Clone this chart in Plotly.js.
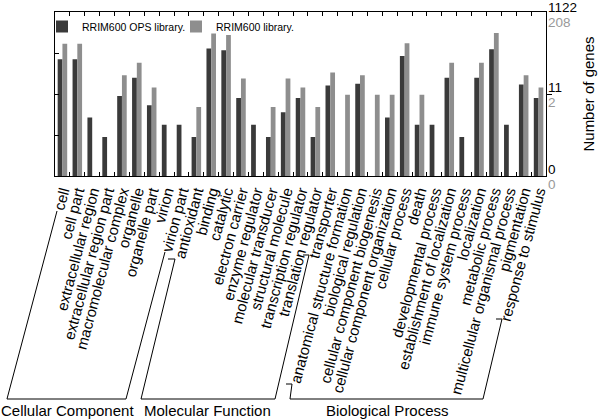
<!DOCTYPE html>
<html>
<head>
<meta charset="utf-8">
<script src="https://cdn.plot.ly/plotly-3.0.1.min.js"></script>
<style>html,body{margin:0;padding:0;background:#fff}#chart{width:600px;height:420px}</style>
</head>
<body>
<div id="chart"></div>
<script>
// GO terms (x-axis categories)
var categories = [
  'cell','cell part','extracellular region','extracellular region part','macromolecular complex',
  'organelle','organelle part','virion','virion part',
  'antioxidant','binding','catalytic','electron carrier','enzyme regulator','molecular transducer',
  'structural molecule','transcription regulator','translation regulator','transporter',
  'anatomical structure formation','biological regulation','cellular component biogenesis',
  'cellular component organization','cellular process','death','developmental process',
  'establishment of localization','immune system process','localization','metabolic process',
  'multicellular organismal process','pigmentation','response to stimulus'
];
// Number of genes per term
var opsGenes = [79,79,3,1,10,28,6,2,2, 1,144,131,9,2,1,4,9,1,18, 0,20,0,3,95,2,2,28,1,28,139,2,19,9];
var libGenes = [35,35,0,0,6,12,3,0,0, 1,62,57,5,0,1,5,3,1,7, 2,6,2,2,36,2,0,12,0,12,64,0,6,3];
var opsTotal = 1122;
var libTotal = 208;
var seriesNames = ['RRIM600 OPS library.', 'RRIM600 library.'];
// right-axis tick labels (number of genes) for each library
var opsTickText = ['1122', '11', '0'];
var libTickText = ['208', '2', '0'];
// group labels
var groupNames = ['Cellular Component', 'Molecular Function', 'Biological Process'];

function pct(counts, total) {
  return counts.map(function (c) { return c > 0 ? c / total * 100 : null; });
}

var FONT = 'Liberation Sans, Arial, Helvetica, sans-serif';
var DARK = '#3a3a3a', GRAY = '#8e8e8e';

var traces = [
  {type: 'bar', name: seriesNames[0], x: categories, y: pct(opsGenes, opsTotal),
   marker: {color: DARK, line: {width: 0}}, legend: 'legend'},
  {type: 'bar', name: seriesNames[1], x: categories, y: pct(libGenes, libTotal),
   marker: {color: GRAY, line: {width: 0}}, legend: 'legend2'},
  // invisible helper so the right-hand axis is drawn
  {type: 'scatter', mode: 'none', x: [categories[0]], y: [null], yaxis: 'y2', showlegend: false, hoverinfo: 'skip'}
];

// plot-area geometry helpers for decorations (pixel -> paper)
var L = 55, R = 546, T = 12, B = 176;
function px(x) { return (x - L) / (R - L); }
function py(y) { return (B - y) / (B - T); }
function path(pts) {
  return pts.map(function (p, i) { return (i ? 'L' : 'M') + px(p[0]).toFixed(4) + ',' + py(p[1]).toFixed(4); }).join(' ');
}
var lineStyle = {color: '#000', width: 1};
var shapes = [
  {type: 'path', xref: 'paper', yref: 'paper', line: lineStyle,
   path: path([[57,211],[7,399],[126,399],[165,252]])},
  {type: 'path', xref: 'paper', yref: 'paper', line: lineStyle,
   path: path([[168,259],[175,259],[141,399],[275,399],[309,255],[303,255]])},
  {type: 'path', xref: 'paper', yref: 'paper', line: lineStyle,
   path: path([[286,384],[292,384],[290,399],[483,399],[502,319],[496,319]])}
];

var annotations = [];
var tickPos = [2, 0, -2];
for (var i = 0; i < tickPos.length; i++) {
  annotations.push({xref: 'paper', yref: 'y', x: 1, y: tickPos[i], xanchor: 'left', yanchor: 'middle',
    xshift: 1, yshift: i === 0 ? 5 : 7, borderpad: 0, showarrow: false, text: opsTickText[i],
    font: {family: FONT, size: 13.5, color: '#000'}});
  annotations.push({xref: 'paper', yref: 'y', x: 1, y: tickPos[i], xanchor: 'left', yanchor: 'middle',
    xshift: 1, yshift: i === 0 ? -10.5 : -8.5, borderpad: 0, showarrow: false, text: libTickText[i],
    font: {family: FONT, size: 13.5, color: '#999'}});
}
var groupX = [67, 207, 387];
for (var g = 0; g < groupNames.length; g++) {
  annotations.push({xref: 'paper', yref: 'paper', x: px(groupX[g]), y: py(410), xanchor: 'center', yanchor: 'middle',
    showarrow: false, text: groupNames[g], font: {family: FONT, size: 15, color: '#000'}});
}

var legendBase = {orientation: 'h', y: 1.0, xanchor: 'left', yanchor: 'top',
  bgcolor: 'rgba(0,0,0,0)', font: {family: FONT, size: 10.5, color: '#000'}};

var layout = {
  width: 600, height: 420,
  margin: {l: L, r: 600 - R, t: T, b: 420 - B, pad: 0},
  paper_bgcolor: '#fff', plot_bgcolor: '#fff',
  font: {family: FONT, color: '#000'},
  barmode: 'group', bargap: 0.36, bargroupgap: 0,
  showlegend: true,
  legend: Object.assign({}, legendBase, {x: px(42)}),
  legend2: Object.assign({}, legendBase, {x: px(176)}),
  xaxis: {type: 'category', range: [-0.5, categories.length - 0.5], tickmode: 'linear', tick0: 0, dtick: 1,
    tickangle: -75, tickfont: {family: FONT, size: 15, color: '#000'},
    ticks: 'inside', tickson: 'boundaries', ticklen: 4, tickcolor: '#000',
    showline: true, linecolor: '#000', linewidth: 1, mirror: 'ticks', showgrid: false,
    automargin: false, fixedrange: true},
  yaxis: {type: 'log', range: [-2, 2], tickvals: [0.1, 1, 10], ticks: 'inside', ticklen: 4,
    tickcolor: '#000', showticklabels: false, showline: true, linecolor: '#000', linewidth: 1,
    mirror: true, showgrid: false, zeroline: false, automargin: false, fixedrange: true},
  yaxis2: {type: 'log', range: [-2, 2], overlaying: 'y', side: 'right', tickvals: [1],
    ticks: 'outside', ticklen: 5, tickcolor: '#000', showticklabels: false, showline: false,
    showgrid: false, zeroline: false, automargin: false, fixedrange: true,
    title: {text: 'Number of genes', font: {family: FONT, size: 15, color: '#000'}, standoff: 32}},
  shapes: shapes,
  annotations: annotations
};

Plotly.newPlot('chart', traces, layout, {displayModeBar: false, staticPlot: true});
</script>
</body>
</html>
